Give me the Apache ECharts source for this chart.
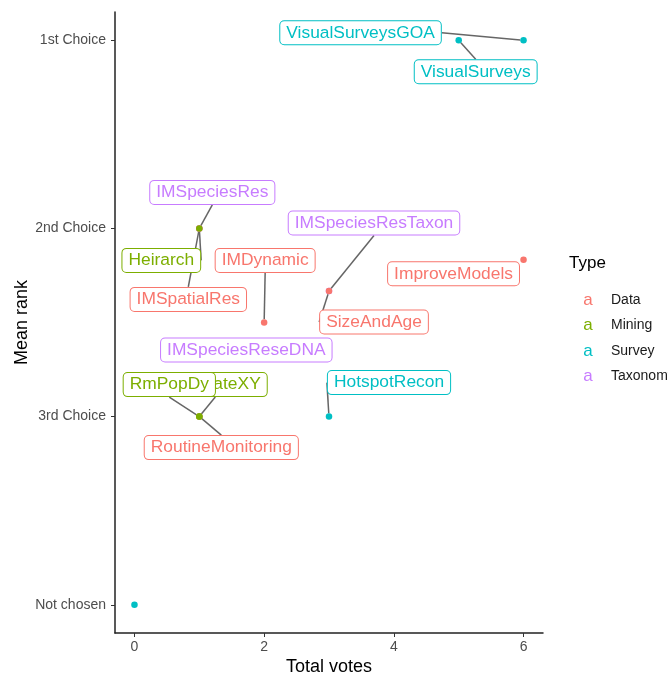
<!DOCTYPE html>
<html>
<head>
<meta charset="utf-8">
<script src="https://cdn.jsdelivr.net/npm/echarts@6/dist/echarts.min.js"></script>
<style>html,body{margin:0;padding:0;background:#fff}#c{width:668px;height:675px}</style>
</head>
<body>
<div id="c"></div>
<script>
// ---- data ----
const typeOrder = ['Data', 'Mining', 'Survey', 'Taxonomy'];
const typeColors = ['#F8766D', '#7CAE00', '#00BFC4', '#C77CFF'];

const dataNames = ['IMSpatialRes', 'IMDynamic', 'SizeAndAge', 'ImproveModels', 'RoutineMonitoring'];
const dataVotes = [1, 2, 3, 6, 1];
const dataRanks = [2, 2.5, 2.333, 2.167, 3];

const miningNames = ['Heirarch', 'EstimateXY', 'RmPopDy'];
const miningVotes = [1, 1, 1];
const miningRanks = [2, 3, 3];

const surveyNames = ['VisualSurveysGOA', 'VisualSurveys', 'HotspotRecon', ''];
const surveyVotes = [6, 5, 3, 0];
const surveyRanks = [1, 1, 3, 4];

const taxonomyNames = ['IMSpeciesRes', 'IMSpeciesResTaxon', 'IMSpeciesReseDNA'];
const taxonomyVotes = [1, 3, 1];
const taxonomyRanks = [2, 2.333, 2.667];

const xTicks = [0, 2, 4, 6];
const yTicks = [1, 2, 3, 4];
const yTickLabels = ['1st Choice', '2nd Choice', '3rd Choice', 'Not chosen'];

// label offsets (pixels, relative to the point) -- layout only
const labelOffsets = {
  IMSpatialRes: [-11, 71], IMDynamic: [1, -62], SizeAndAge: [45, 31],
  ImproveModels: [-70, 14], RoutineMonitoring: [22, 31],
  Heirarch: [-38, 32], EstimateXY: [16, -32], RmPopDy: [-30, -32],
  VisualSurveysGOA: [-163, -7.5], VisualSurveys: [17, 31.5], HotspotRecon: [60, -34],
  IMSpeciesRes: [13, -36], IMSpeciesResTaxon: [45, -68], IMSpeciesReseDNA: [47, -4]
};
const noLine = { IMSpeciesReseDNA: true, ImproveModels: true };

const FONT = 'Liberation Sans, Arial, sans-serif';
const groups = {
  Data: [dataNames, dataVotes, dataRanks],
  Mining: [miningNames, miningVotes, miningRanks],
  Survey: [surveyNames, surveyVotes, surveyRanks],
  Taxonomy: [taxonomyNames, taxonomyVotes, taxonomyRanks]
};
const drawOrder = ['Taxonomy', 'Data', 'Mining', 'Survey'];

const series = drawOrder.map(t => {
  const col = typeColors[typeOrder.indexOf(t)];
  const [names, votes, ranks] = groups[t];
  return {
    name: t,
    type: 'scatter',
    symbolSize: 6.5,
    itemStyle: { color: col, opacity: 1 },
    data: names.map((n, i) => ({
      name: n,
      value: [votes[i], ranks[i]],
      label: { show: n !== '' },
      labelLine: { show: n !== '' && !noLine[n] }
    })),
    label: {
      show: true,
      position: 'inside',
      formatter: p => p.name,
      color: col,
      fontFamily: FONT,
      fontSize: 17.4,
      lineHeight: 18,
      backgroundColor: '#fff',
      borderColor: col,
      borderWidth: 1,
      borderRadius: 4,
      padding: [3, 6, 2, 6]
    },
    labelLine: { show: true, lineStyle: { color: '#666', width: 1.5 } },
    labelLayout: p => {
      const n = names[p.dataIndex];
      const o = labelOffsets[n] || [0, 0];
      return { dx: o[0], dy: o[1], hideOverlap: false, moveOverlap: null };
    },
    emphasis: { disabled: true }
  };
});

const rich = { t: { fontSize: 14, color: '#1a1a1a', fontFamily: FONT, padding: [0, 0, 0, 14], lineHeight: 20 } };
typeOrder.forEach((t, i) => {
  rich[t] = { color: typeColors[i], fontSize: 17, fontFamily: FONT, width: 18, align: 'center', lineHeight: 20 };
});

const chart = echarts.init(document.getElementById('c'), null, { renderer: 'canvas' });
chart.setOption({
  animation: false,
  backgroundColor: '#fff',
  title: {
    text: 'Type', left: 569, top: 255, padding: 0,
    textStyle: { fontSize: 17, fontWeight: 'normal', color: '#000', fontFamily: FONT }
  },
  legend: {
    data: typeOrder,
    orient: 'vertical',
    left: 568, top: 285,
    icon: 'none',
    itemWidth: 1, itemHeight: 20, itemGap: 7,
    selectedMode: false,
    formatter: n => '{' + n + '|a}{t|' + n + '}',
    textStyle: { rich: rich, fontFamily: FONT }
  },
  grid: { left: 115, right: 125, top: 12, bottom: 42, containLabel: false, outerBoundsMode: 'none' },
  xAxis: {
    type: 'value', min: -0.3, max: 6.3,
    name: 'Total votes', nameLocation: 'middle', nameGap: 25, nameMoveOverlap: false,
    nameTextStyle: { fontSize: 18, color: '#000', fontFamily: FONT },
    axisLine: { show: true, onZero: false, lineStyle: { color: '#222', width: 1.5 } },
    axisTick: { show: true, length: 4, lineStyle: { color: '#333' }, customValues: xTicks },
    axisLabel: { customValues: xTicks, fontSize: 14, color: '#4D4D4D', fontFamily: FONT, margin: 7 },
    splitLine: { show: false }
  },
  yAxis: {
    type: 'value', min: 0.85, max: 4.15, inverse: true,
    name: 'Mean rank', nameLocation: 'middle', nameGap: 84, nameMoveOverlap: false,
    nameTextStyle: { fontSize: 18, color: '#000', fontFamily: FONT },
    axisLine: { show: true, onZero: false, lineStyle: { color: '#222', width: 1.5 } },
    axisTick: { show: true, length: 4, lineStyle: { color: '#333' }, customValues: yTicks },
    axisLabel: {
      customValues: yTicks, fontSize: 14, color: '#4D4D4D', fontFamily: FONT, margin: 9,
      formatter: v => { const i = yTicks.indexOf(Math.round(v)); return i >= 0 ? yTickLabels[i] : ''; }
    },
    splitLine: { show: false }
  },
  series: series
});
</script>
</body>
</html>
